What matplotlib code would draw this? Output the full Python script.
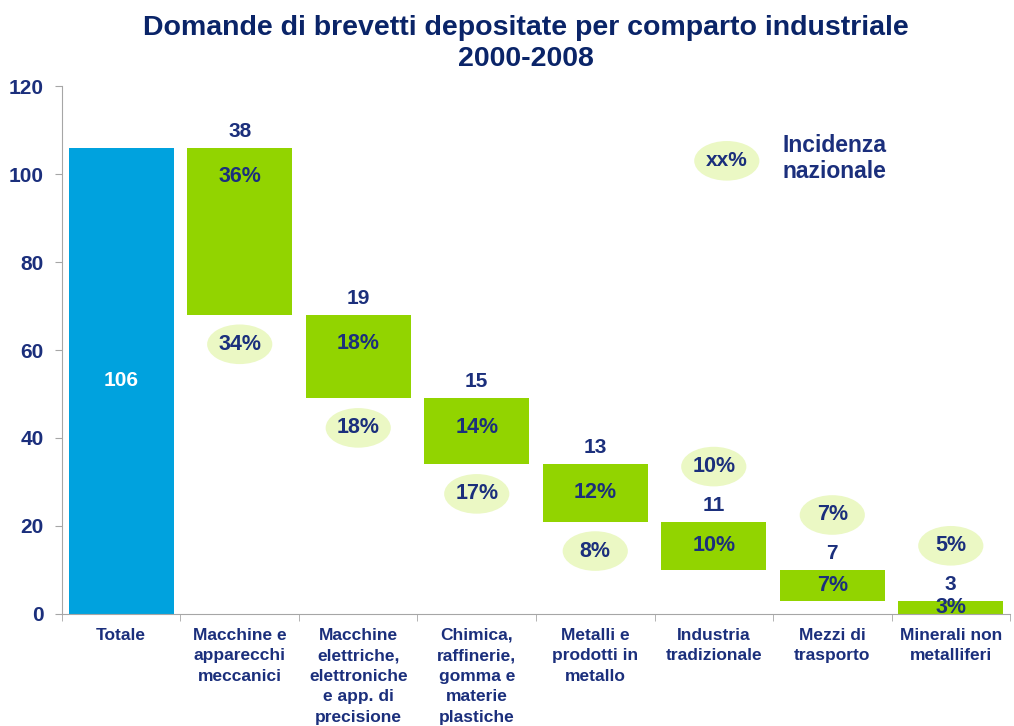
import matplotlib
matplotlib.use("Agg")
import matplotlib.pyplot as plt
from matplotlib.patches import Ellipse
import numpy as np

plt.rcParams['font.family'] = ['Liberation Sans', 'DejaVu Sans']
plt.rcParams['font.weight'] = 'bold'

categories = ["Totale", "Macchine e\napparecchi\nmeccanici",
              "Macchine\nelettriche,\nelettroniche\ne app. di\nprecisione",
              "Chimica,\nraffinerie,\ngomma e\nmaterie\nplastiche",
              "Metalli e\nprodotti in\nmetallo", "Industria\ntradizionale",
              "Mezzi di\ntrasporto", "Minerali non\nmetalliferi"]
total = 106
values = [38, 19, 15, 13, 11, 7, 3]
share_pct = [36, 18, 14, 12, 10, 7, 3]
national_pct = [34, 18, 17, 8, 10, 7, 5]
y_ticks = [0, 20, 40, 60, 80, 100, 120]

NAVY = "#1B2F7C"
TITLE = "#0A2468"
BLUE = "#00A2DE"
GREEN = "#92D400"
PALE = "#EBF8C4"
GRAY = "#A6A6A6"

fig = plt.figure(figsize=(10.14, 7.26), dpi=100)
ax = fig.add_axes([0.0611, 0.1543, 0.935, 0.7272])

W = 0.886
ax.bar(0, total, width=W, color=BLUE, zorder=2)
ax.text(0, total / 2, str(total), color="white", ha="center", va="center",
        fontsize=15, fontweight="bold")

tops = total - np.concatenate([[0], np.cumsum(values)[:-1]])
bottoms = tops - np.array(values)
xs = np.arange(1, len(values) + 1)
ax.bar(xs, values, bottom=bottoms, width=W, color=GREEN, zorder=2)

for i, (x, v, t, b, s, n) in enumerate(zip(xs, values, tops, bottoms, share_pct, national_pct)):
    ax.annotate(str(v), (x, t), xytext=(0, 5), textcoords="offset points",
                ha="center", va="bottom", fontsize=15, color=NAVY, fontweight="bold")
    ax.text(x, t - min(6.6, 0.5 * v), f"{s}%", ha="center", va="center",
            fontsize=15.5, color=NAVY, fontweight="bold", zorder=4)
    ey = b - 6.7 if i < 4 else t + 12.5
    ax.add_patch(Ellipse((x, ey), 0.55, 9.0, facecolor=PALE, edgecolor="none", zorder=3))
    ax.text(x, ey, f"{n}%", ha="center", va="center", fontsize=15.5,
            color=NAVY, fontweight="bold", zorder=4)

# legend
ax.add_patch(Ellipse((5.11, 103.0), 0.55, 9.0, facecolor=PALE, edgecolor="none", zorder=3))
ax.text(5.11, 103.0, "xx%", ha="center", va="center", fontsize=15, color=NAVY,
        fontweight="bold", zorder=4)
ax.text(6.02, 103.6, "Incidenza\nnazionale", ha="center", va="center", fontsize=16.5,
        color=NAVY, fontweight="bold", linespacing=1.15)

ax.set_xlim(-0.5, 7.5)
ax.set_ylim(0, 120)
ax.set_yticks(y_ticks)
ax.set_yticklabels([str(t) for t in y_ticks], fontsize=15, color=NAVY, fontweight="bold")
ax.set_xticks(np.arange(len(categories)))
ax.set_xticklabels(categories, fontsize=12.5, color=NAVY, fontweight="bold", linespacing=1.46)
ax.tick_params(axis="x", length=0, pad=10)
ax.tick_params(axis="y", length=5, color=GRAY, pad=8)
ax.set_xticks(np.arange(-0.5, 8.0, 1.0), minor=True)
ax.tick_params(axis="x", which="minor", length=5, color=GRAY, direction="out")
for sp in ["top", "right"]:
    ax.spines[sp].set_visible(False)
for sp in ["left", "bottom"]:
    ax.spines[sp].set_color(GRAY)

fig.text(0.519, 0.979, "Domande di brevetti depositate per comparto industriale\n2000-2008",
         ha="center", va="top", fontsize=20.5, color=TITLE, fontweight="bold", linespacing=1.25)

fig.savefig("out.png", dpi=100)
